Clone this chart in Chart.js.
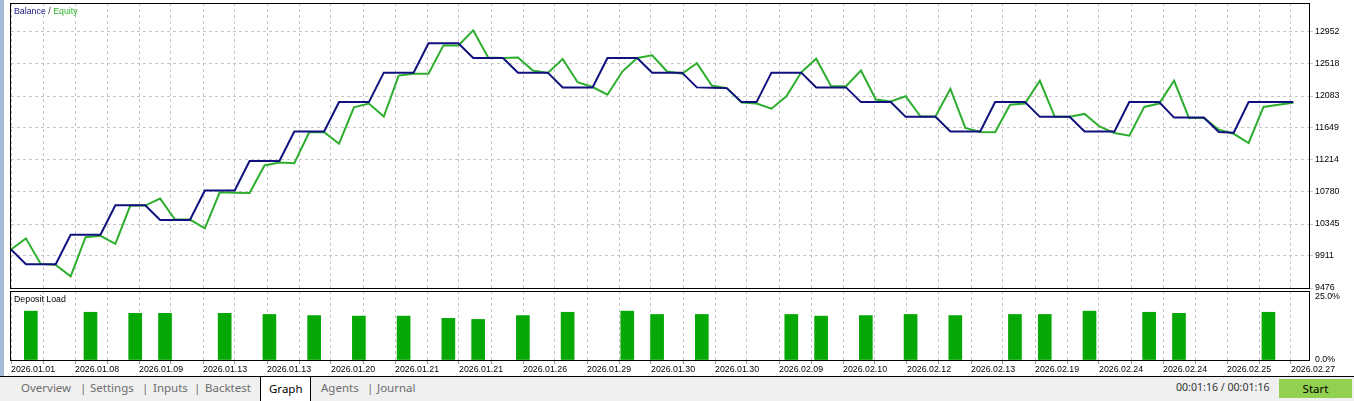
<!DOCTYPE html>
<html>
<head>
<meta charset="utf-8">
<script src="https://cdn.jsdelivr.net/npm/chart.js@4.4.1/dist/chart.umd.min.js"></script>
<style>
  html, body { margin: 0; padding: 0; background: #fff; }
  body { width: 1354px; height: 401px; position: relative; overflow: hidden; font-family: 'Liberation Sans', Arial, sans-serif; }
  canvas { position: absolute; left: 0; }
  #top { top: 0; }
  #bottom { top: 288px; }
  .strip { position: absolute; left: 0; top: 0; width: 4px; height: 376px; background: #a3bbd6; }
  .lbl { position: absolute; font-size: 8.8px; line-height: 10px; white-space: nowrap; z-index: 2; }
  .tabs { position: absolute; left: 0; top: 376px; width: 1354px; height: 25px; background: #f0f0f0;
          border-top: 1px solid #000; box-sizing: border-box; font-family: 'Noto Sans', sans-serif;
          font-size: 11.5px; color: #6d6d6d; }
  .tabs span { position: absolute; top: 0; line-height: 21px; white-space: nowrap; }
  .active { position: absolute; left: 260px; top: -1px; width: 49px; height: 25px; background: #fff;
            border: 1px solid #000; border-bottom: none; }
  .active span { color: #000; left: 8px; top: 1px !important; }
  .time { font-size: 10.6px; color: #333; }
  .btn { position: absolute; left: 1279px; top: 2px; width: 73px; height: 19px; background: #92d050;
         color: #000; text-align: center; line-height: 19px; }
</style>
</head>
<body>
<div class="strip"></div>
<canvas id="top" width="1354" height="292"></canvas>
<canvas id="bottom" width="1354" height="88"></canvas>

<div class="lbl" style="left:14px; top:6px;">
  <span style="color:#16168a">Balance</span><span style="color:#333"> / </span><span style="color:#2db52d">Equity</span>
</div>
<div class="lbl" style="left:14px; top:294px; color:#000;">Deposit Load</div>

<div class="tabs">
  <span style="left:21px">Overview</span>
  <span style="left:80px">|</span>
  <span style="left:90px">Settings</span>
  <span style="left:142px">|</span>
  <span style="left:153px">Inputs</span>
  <span style="left:194px">|</span>
  <span style="left:205px">Backtest</span>
  <div class="active"><span>Graph</span></div>
  <span style="left:321px">Agents</span>
  <span style="left:367px">|</span>
  <span style="left:377px">Journal</span>
  <span class="time" style="left:1176px">00:01:16 / 00:01:16</span>
  <div class="btn">Start</div>
</div>

<script>
// x axis date labels (one on every second grid line)
const dateLabels = ['2026.01.01', '2026.01.08', '2026.01.09', '2026.01.13', '2026.01.13', '2026.01.20',
  '2026.01.21', '2026.01.21', '2026.01.26', '2026.01.29', '2026.01.30', '2026.01.30', '2026.02.09',
  '2026.02.10', '2026.02.12', '2026.02.13', '2026.02.19', '2026.02.24', '2026.02.24', '2026.02.25',
  '2026.02.27'];

// balance / equity per deal number (0..86)
const balance = [10000,
  9800, 9800, 9800, 10200, 10200, 10200, 10600, 10600, 10600, 10400, 10400, 10400,
  10800, 10800, 10800, 11200, 11200, 11200, 11600, 11600, 11600, 12000, 12000, 12000,
  12400, 12400, 12400, 12800, 12800, 12800, 12600, 12600, 12600, 12400, 12400, 12400,
  12200, 12200, 12200, 12600, 12600, 12600, 12400, 12400, 12400, 12200, 12195, 12190,
  12000, 12000, 12400, 12400, 12400, 12200, 12200, 12200, 12000, 12000, 12000,
  11800, 11800, 11800, 11600, 11600, 11600, 12000, 12000, 12000, 11800, 11800, 11800,
  11600, 11600, 11600, 12000, 12000, 12000, 11790, 11790, 11790, 11595, 11585,
  12000, 12000, 12000, 12000];

const equity = [10000,
  10150, 9800, 9790, 9635, 10165, 10185, 10075, 10595, 10595, 10690, 10405, 10405,
  10285, 10775, 10770, 10765, 11140, 11180, 11170, 11590, 11590, 11435, 11930, 11980,
  11805, 12360, 12385, 12385, 12770, 12770, 12975, 12605, 12600, 12605, 12430, 12395,
  12585, 12270, 12205, 12100, 12415, 12600, 12635, 12415, 12385, 12530, 12225, 12190,
  11995, 11980, 11910, 12080, 12405, 12590, 12215, 12215, 12430, 12035, 12010,
  12080, 11805, 11805, 12180, 11650, 11595, 11590, 11965, 11980, 12290, 11800, 11800,
  11840, 11670, 11580, 11545, 11935, 11980, 12290, 11785, 11785, 11625, 11570,
  11445, 11935, 11965, 11990];

// deposit load (%) and the deal where each bar starts
const loadDeals = [1, 5, 8, 10, 14, 17, 20, 23, 26, 29, 31, 34, 37, 41, 43, 46, 52, 54, 57, 60, 63, 67, 69, 72, 76, 78, 84];
const loadValues = [17.7, 17.3, 16.9, 16.9, 16.9, 16.5, 16.1, 15.9, 15.9, 15.1, 14.7, 16.1, 17.3, 17.7,
  16.5, 16.5, 16.5, 15.9, 16.1, 16.5, 16.1, 16.5, 16.5, 17.7, 17.3, 16.9, 17.3];

const balanceTicks = [9476, 9911, 10345, 10780, 11214, 11649, 12083, 12518, 12952];
const loadTicks = [0, 25];
const loadTickLabels = ['0.0%', '25.0%'];

// layout constants
const X_MAX = 87.05;
const PLOT_W = 1298;
const GRID_STEP = X_MAX * 32 / PLOT_W;   // a grid line every 32px
const Y_MAX = 9476 + 285 * (12952 - 9476) / 256;
const BAR_SHIFT = 0.33;

Chart.defaults.font.family = "'Liberation Sans', Arial, sans-serif";
Chart.defaults.font.size = 8.8;
Chart.defaults.color = '#000';

const gridColor = '#c6c6c6';

function gridTicks(scale) {
  const t = [];
  for (let j = 0; j * GRID_STEP <= X_MAX; j++) t.push({ value: j * GRID_STEP });
  scale.ticks = t;
}

function fitBox(size) {
  return s => {
    if (s.isHorizontal()) s.height = size; else s.width = size;
    s.paddingLeft = s.paddingRight = s.paddingTop = s.paddingBottom = 0;
  };
}

// black frame round the plot area
const framePlugin = {
  id: 'frame',
  afterDatasetsDraw(chart) {
    const { ctx, chartArea: a } = chart;
    ctx.save();
    ctx.strokeStyle = '#000';
    ctx.lineWidth = 1;
    ctx.strokeRect(a.left - 0.5, a.top + 0.5, a.right - a.left + 1, a.bottom - a.top);
    ctx.restore();
  }
};

new Chart(document.getElementById('top'), {
  type: 'line',
  data: {
    datasets: [
      { label: 'Balance', data: balance.map((v, i) => ({ x: i, y: v })), borderColor: '#10107e',
        borderWidth: 2, pointRadius: 0, tension: 0 },
      { label: 'Equity', data: equity.map((v, i) => ({ x: i, y: v })), borderColor: '#2eae2e',
        borderWidth: 2, pointRadius: 0, tension: 0 }
    ]
  },
  options: {
    responsive: false,
    animation: false,
    events: [],
    layout: { padding: { left: 11, top: 3, right: 0, bottom: 0 } },
    plugins: { legend: { display: false }, tooltip: { enabled: false } },
    scales: {
      x: {
        type: 'linear', min: 0, max: X_MAX, offset: false,
        afterBuildTicks: gridTicks, afterFit: fitBox(4),
        ticks: { display: false },
        grid: { color: gridColor, drawTicks: false, offset: false },
        border: { display: false, dash: [3, 3] }
      },
      y: {
        position: 'right', min: 9476, max: Y_MAX,
        afterBuildTicks: s => { s.ticks = balanceTicks.map(v => ({ value: v })); },
        afterFit: fitBox(45),
        ticks: { padding: 2, callback: v => String(v) },
        grid: { color: gridColor, tickLength: 4 },
        border: { display: false, dash: [3, 3] }
      }
    }
  },
  plugins: [framePlugin]
});

new Chart(document.getElementById('bottom'), {
  type: 'bar',
  data: {
    datasets: [{
      label: 'Deposit Load',
      data: loadDeals.map((d, i) => ({ x: d + BAR_SHIFT, y: loadValues[i] })),
      backgroundColor: '#05a805', borderWidth: 0, barThickness: 13
    }]
  },
  options: {
    responsive: false,
    animation: false,
    events: [],
    layout: { padding: { left: 11, top: 3, right: 0, bottom: 0 } },
    plugins: { legend: { display: false }, tooltip: { enabled: false } },
    scales: {
      x: {
        type: 'linear', min: 0, max: X_MAX, offset: false,
        afterBuildTicks: gridTicks, afterFit: fitBox(16),
        ticks: {
          autoSkip: false, maxRotation: 0, align: 'start', padding: 0,
          callback: (v, i) => (i % 2 === 0 ? dateLabels[i / 2] : '')
        },
        grid: { color: gridColor, tickLength: 4, tickColor: '#9a9a9a', offset: false },
        border: { display: false, dash: [3, 3] }
      },
      y: {
        position: 'right', min: 0, max: 25,
        afterBuildTicks: s => { s.ticks = loadTicks.map(v => ({ value: v })); },
        afterFit: fitBox(45),
        ticks: {
          padding: 2,
          callback: (v, i) => (i === loadTicks.length - 1 ? ['', loadTickLabels[i]] : loadTickLabels[i])
        },
        grid: { drawOnChartArea: false, tickLength: 4, tickColor: 'rgba(0,0,0,0)' },
        border: { display: false }
      }
    }
  },
  plugins: [framePlugin]
});
</script>
</body>
</html>
